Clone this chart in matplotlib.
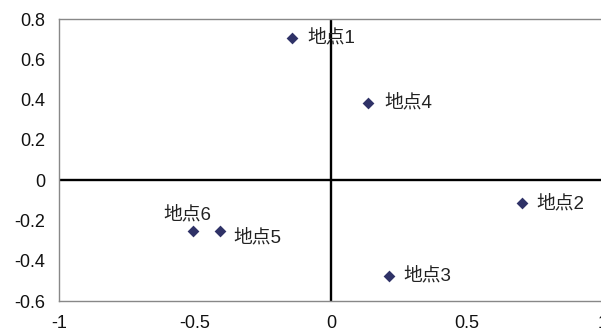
import matplotlib
matplotlib.use("Agg")
import matplotlib.pyplot as plt

names = ["地点1", "地点2", "地点3", "地点4", "地点5", "地点6"]
xs = [-0.145, 0.701, 0.213, 0.137, -0.408, -0.508]
ys = [0.705, -0.115, -0.475, 0.382, -0.252, -0.252]
xticks = [-1, -0.5, 0, 0.5, 1]
yticks = [-0.6, -0.4, -0.2, 0, 0.2, 0.4, 0.6, 0.8]

offsets = {
    "地点1": (16, 0, "left", "center"),
    "地点2": (15, 0, "left", "center"),
    "地点3": (14, 0, "left", "center"),
    "地点4": (16, 0, "left", "center"),
    "地点5": (13, -7, "left", "center"),
    "地点6": (-5, 16, "center", "center"),
}

fig = plt.figure(figsize=(6.01, 3.32), dpi=100)
W, H = 601, 332
left, right, top, bottom = 59, 603, 19, 301
ax = fig.add_axes([left / W, 1 - bottom / H, (right - left) / W, (bottom - top) / H])
ax.set_xlim(-1, 1)
ax.set_ylim(-0.6, 0.8)

ax.axhline(0, color="black", lw=1.7, zorder=1)
ax.axvline(0, color="black", lw=1.7, zorder=1)
ax.scatter(xs, ys, marker="D", s=36, color="#2f3267", linewidths=0, zorder=3)

for n, x, y in zip(names, xs, ys):
    dx, dy, ha, va = offsets[n]
    ax.annotate(n, (x, y), xytext=(dx, dy), textcoords="offset pixels",
                ha=ha, va=va, fontsize=13.5, color="#222222",
                family=["Liberation Sans", "Noto Sans CJK JP"])

ax.set_xticks(xticks)
ax.set_xticklabels([f"{v:g}" for v in xticks])
ax.set_yticks(yticks)
ax.set_yticklabels([f"{v:g}" for v in yticks])
ax.tick_params(length=0, labelsize=13, pad=10)
for lab in ax.get_xticklabels() + ax.get_yticklabels():
    lab.set_family("Liberation Sans")
    lab.set_color("#111111")
for s in ax.spines.values():
    s.set_color("#888888")
    s.set_linewidth(1.0)

fig.savefig("out.png", dpi=100)
